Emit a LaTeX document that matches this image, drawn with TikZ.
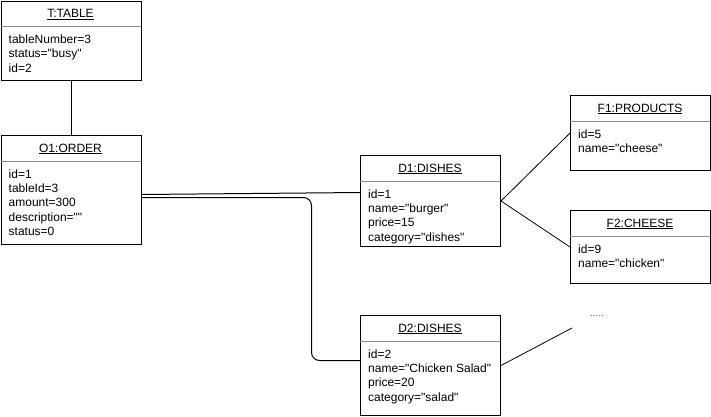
\documentclass[tikz,border=0pt]{standalone}
\usepackage{fontspec}
\setmainfont{Liberation Sans}
\newfontfamily\umlfont{Liberation Sans}
\usetikzlibrary{calc}
\tikzset{
  objbox/.style={draw=black, line width=1pt, minimum width=140pt, inner sep=0pt, anchor=north west, fill=white},
  sepline/.style={draw=black!45, line width=0.8pt},
  ttl/.style={anchor=base, inner sep=0pt, font=\umlfont\fontsize{12}{14.4}\selectfont},
  attr/.style={anchor=base west, inner sep=0pt, font=\umlfont\fontsize{12}{14.4}\selectfont},
  conn/.style={draw=black, line width=1pt},
  thinconn/.style={draw=black, line width=0.8pt},
  dots/.style={inner sep=0pt, text=black!60, font=\umlfont\fontsize{10}{12}\selectfont},
}
\newcommand{\umlobj}[6]{%
  \node[objbox, minimum height=#4pt] (#1) at (#2,#3) {};
  \node[ttl] (#1-title) at ($(#2,#3)+(70,17)$) {\underline{#5}};
  \draw[sepline] ($(#2,#3)+(0,26)$) -- ($(#2,#3)+(140,26)$);
  \foreach \a [count=\i] in {#6} {
    \node[attr] (#1-a\i) at ($(#2,#3)+(8,{43+14.4*(\i-1)})$) {\a};
  }
}
\begin{document}
\begin{tikzpicture}[x=1pt,y=-1pt]
\useasboundingbox (0,0) rectangle (711,416);
\umlobj{T}{0.5}{0.5}{79.5}{T:TABLE}{tableNumber=3,status="busy",id=2}
\umlobj{O1}{0.5}{135}{109}{O1:ORDER}{id=1,tableId=3,amount=300,description="",status=0}
\umlobj{D1}{360}{155}{91}{D1:DISHES}{id=1,name="burger",price=15,category="dishes"}
\umlobj{F1}{570}{95}{75}{F1:PRODUCTS}{id=5,name="cheese"}
\umlobj{F2}{570}{210}{73}{F2:CHEESE}{id=9,name="chicken"}
\umlobj{D2}{360}{315}{100}{D2:DISHES}{id=2,name="Chicken Salad",price=20,category="salad"}
\node[dots] (more) at (597,316) {.....};
\coordinate (free) at (572,328);
\draw[conn] (T) -- (O1);
\draw[conn] ($(O1.east)+(0,4.5)$) -- ($(D1.west)+(0,-8.5)$);
\draw[conn, rounded corners=8pt] ($(O1.east)+(0,7.5)$) -- ++(170,0) |- ($(D2.west)+(0,-5)$);
\draw[thinconn] (D1.east) -- (F1.west);
\draw[thinconn] (D1.east) -- (F2.west);
\draw[thinconn] (D2.east) -- (free);
\end{tikzpicture}
\end{document}
